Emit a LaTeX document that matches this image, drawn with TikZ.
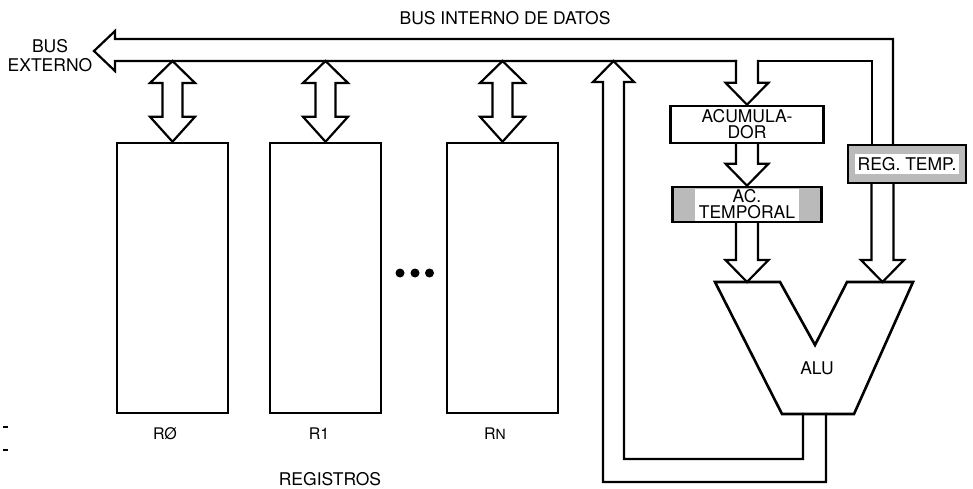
\documentclass[tikz,border=0pt]{standalone}
\usepackage{fontspec}
\setmainfont{TeX Gyre Heros}
\usetikzlibrary{calc}

% down-pointing wide arrow: #1 = tip, #2 = point on the level where the shaft starts
\newcommand\fatdown[2]{%
  \draw[fat] ($(#1|-#2)+(-11,0)$) -- ($(#1)+(-11,-22)$) -- ($(#1)+(-21.5,-22)$)
    -- (#1) -- ($(#1)+(21.5,-22)$) -- ($(#1)+(11,-22)$) -- ($(#1|-#2)+(11,0)$);}

% two-headed wide arrow between the internal bus and the top of a register
\newcommand\busarrow[1]{%
  \draw[fat] (#1.north |- bi) -- ++(22.5,22) -- ++(-12.5,0)
    -- ($(#1.north)+(10,-25)$) -- ++(12.5,0) -- (#1.north) -- ++(-22.5,-25)
    -- ++(12.5,0) -- ($(#1.north |- bi)+(-10,22)$) -- ++(-12.5,0) -- cycle;}

\begin{document}
\begin{tikzpicture}[x=1pt,y=-1pt,line join=miter,
  fat/.style={draw,line width=2.2pt,line cap=rect},
  regbox/.style={draw,line width=2.5pt,minimum width=111pt,minimum height=270pt,inner sep=0pt},
  unitbox/.style={draw,line width=2.6pt,inner sep=0pt},
  shadedbox/.style={unitbox,fill=black!27},
  lbl/.style={font=\fontsize{17.5}{16}\selectfont,align=center,inner sep=0pt},
  reglbl/.style={font=\fontsize{16}{16}\selectfont,inner sep=0pt},
  dot/.style={circle,fill,minimum size=9pt,inner sep=0pt},
  alu/.style={draw,line width=2.6pt},
]
\useasboundingbox (0,0) rectangle (973,489);

% registers
\node[regbox] (r0) at (172.5,278) {};
\node[regbox] (r1) at (325.5,278) {};
\node[regbox] (rn) at (502.5,278) {};
\node[reglbl] (l0) at (165,434) {RØ};
\node[reglbl] (l1) at (319,434) {R1};
\node[reglbl] (ln) at (495,434) {R{\fontsize{14}{14}\selectfont N}};
\node[dot] (d1) at (400,273) {};
\node[dot] (d2) at (415,273) {};
\node[dot] (d3) at (429.5,273) {};
\node[lbl] (regs) at (330,479) {REGISTROS};

% accumulator, temporary registers
\node[unitbox,lbl,minimum width=153pt,minimum height=37pt] (acc) at (747,124.5) {ACUMULA-\\DOR};
\node[shadedbox,minimum width=149pt,minimum height=35pt] (actmp) at (747,204.5) {};
\node[lbl,fill=white,inner xsep=4pt,minimum height=32pt] (actxt) at (actmp.center) {AC.\\TEMPORAL};
\node[shadedbox,minimum width=118pt,minimum height=38pt] (regt) at (907,164) {};
\node[lbl,fill=white,inner xsep=2.5pt,minimum height=20pt] (regtxt) at (regt.center) {REG. TEMP.};

% ALU outline
\coordinate (a1) at (715,282);
\coordinate (a2) at (780,282);
\coordinate (av) at (815,345);
\coordinate (a3) at (847,282);
\coordinate (a4) at (913,282);
\coordinate (a5) at (854,414);
\coordinate (a6) at (782,414);
\draw[alu] (a1) -- (a2) -- (av) -- (a3) -- (a4) -- (a5) -- (a6) -- cycle;
\node[lbl] (alu) at (817,368) {ALU};
\coordinate (inA) at (747,282);
\coordinate (inB) at (882.5,282);
\coordinate (o1) at (803,414);
\coordinate (o2) at (826,414);

% internal data bus
\coordinate (ext) at (94,51);
\coordinate (bo) at (893,39);
\coordinate (bi) at (872,61);
\coordinate (al) at (736,61);
\coordinate (ar) at (758,61);
\coordinate (ut) at (613.5,61);
\draw[fat] (al) -- (115,61) -- (115,71) -- (ext) -- (115,31) -- (115,39)
  -- (bo) -- (bo |- regt.north);
\draw[fat] (bi |- regt.north) -- (bi) -- (ar);
\node[lbl] (busint) at (505,18) {BUS INTERNO DE DATOS};
\node[lbl,font=\fontsize{17.5}{19}\selectfont] (busext) at (50,56) {BUS\\EXTERNO};

% register ports
\busarrow{r0}
\busarrow{r1}
\busarrow{rn}

% data paths into and out of the ALU
\fatdown{acc.north}{al}
\fatdown{actmp.north}{acc.south}
\fatdown{inA}{actmp.south}
\fatdown{inB}{regt.south}
\draw[fat] (o1) -- (803,459) -- (624,459) -- (624,82) -- (634,82) -- (ut)
  -- (593,82) -- (603,82) -- (603,482) -- (826,482) -- (o2);

% stray marks at the left margin
\draw[line width=1.6pt] (3.3,427) -- (7.5,427);
\draw[line width=1.6pt] (3.3,450) -- (7.5,450);
\end{tikzpicture}
\end{document}
